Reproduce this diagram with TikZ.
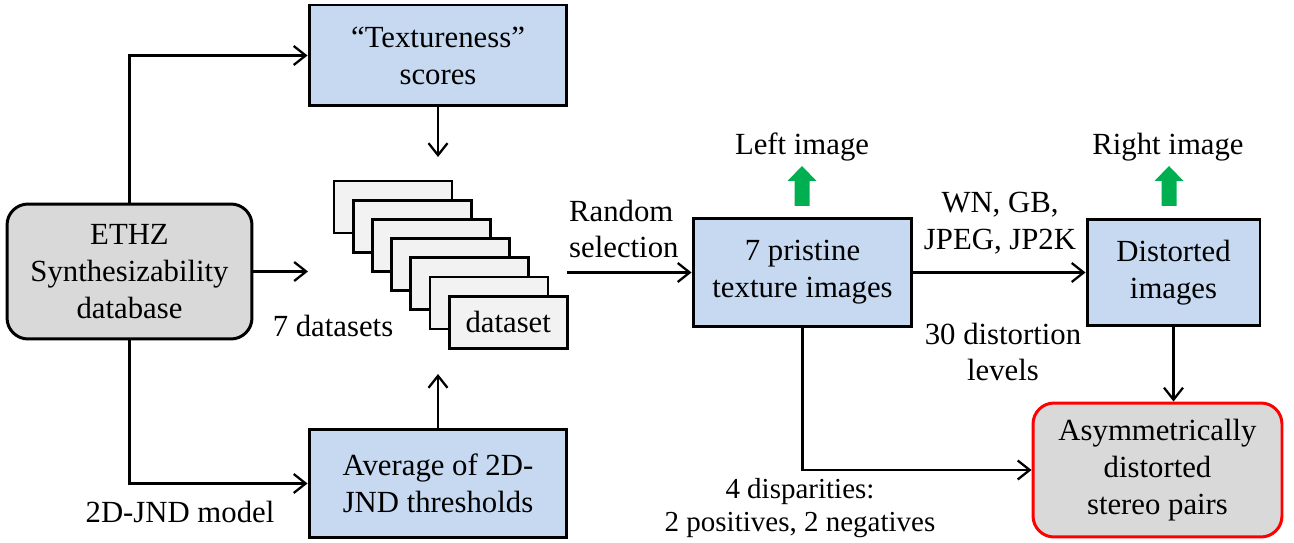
\documentclass[tikz,border=0pt]{standalone}
\usepackage{fontspec}
\IfFontExistsTF{LiberationSerif-Regular.ttf}
  {\setmainfont{LiberationSerif-Regular.ttf}[BoldFont=LiberationSerif-Bold.ttf]}
  {\setmainfont{Liberation Serif}}
\definecolor{boxblue}{RGB}{198,217,241}
\definecolor{boxgray}{RGB}{217,217,217}
\definecolor{setgray}{RGB}{242,242,242}
\definecolor{upgreen}{RGB}{0,176,80}
\usetikzlibrary{positioning,calc,arrows.meta}

\begin{document}
\begin{tikzpicture}[x=0.02cm,y=-0.02cm,
  >={Straight Barb[length=2.4mm,width=3.8mm,line width=1.3pt]},
  every node/.style={font=\rmfamily\fontsize{17.5}{21}\selectfont,align=center},
  blockbox/.style={draw,line width=1.7pt,fill=boxblue,inner sep=0pt},
  roundbox/.style={draw,line width=1.7pt,fill=boxgray,rounded corners=0.42cm,inner sep=0pt},
  dsbox/.style={draw,line width=1.6pt,fill=setgray,minimum width=2.36cm,minimum height=1.04cm,inner sep=0pt},
  link/.style={line width=1.4pt,->},
  smalltext/.style={font=\rmfamily\fontsize{16.5}{18.5}\selectfont}]
  \useasboundingbox (0,0) rectangle (1294,543);
  % blocks
  \node[roundbox,minimum width=4.9cm,minimum height=2.7cm] (ethz) at (129.5,271.5)
    {ETHZ\\Synthesizability\\database};
  \node[blockbox,minimum width=5.16cm,minimum height=2.02cm] (tex) at (438,55.5)
    {``Textureness''\\scores};
  \node[blockbox,minimum width=5.16cm,minimum height=2.18cm] (avg) at (438,483.5)
    {Average of 2D-\\JND thresholds};
  \node[blockbox,minimum width=4.38cm,minimum height=2.16cm] (prist) at (802.5,272.5)
    {7 pristine\\texture images};
  \node[blockbox,minimum width=3.46cm,minimum height=2.12cm] (dist) at (1173.5,272.5)
    {Distorted\\images};
  \node[roundbox,draw=red,minimum width=4.98cm,minimum height=2.68cm] (asym) at (1157.5,470)
    {Asymmetrically\\distorted\\stereo pairs};
  % dataset stack
  \foreach \i in {0,...,5}
    \node[dsbox] (ds\i) at (393+19.2*\i,207+19.2*\i) {};
  \node[dsbox] (ds6) at (508.2,322.2) {dataset};
  % free ends
  \coordinate (dsin) at (308,271.5);
  \coordinate (dstop) at (438,157);
  \coordinate (dsbot) at (438,374);
  \coordinate (rs) at (567,272.5);
  % connectors
  \draw[link] (ethz.north) |- (tex.west);
  \draw[link] (ethz.south) |- (avg.west);
  \draw[link] (ethz.east) -- (dsin);
  \draw[link] (tex.south) -- (dstop);
  \draw[link] (avg.north) -- (dsbot);
  \draw[link] (rs) -- (prist.west);
  \draw[link] (prist.east) -- (dist.west);
  \draw[link] (dist.south) -- (dist.south |- asym.north);
  \draw[link] (prist.south) |- (asym.west);
  % green arrows
  \foreach \c in {802,1169}
    \fill[upgreen] (\c-7.5,206) -- (\c-7.5,181) -- (\c-14.5,181) -- (\c,166)
      -- (\c+14.5,181) -- (\c+7.5,181) -- (\c+7.5,206) -- cycle;
  % labels
  \node[anchor=base] (leftlbl) at (802,155) {Left image};
  \node[anchor=base] (rightlbl) at (1168,155) {Right image};
  \node[anchor=base] (dslbl) at (333,337) {7 datasets};
  \node[anchor=base] (jndlbl) at (180,522) {2D-JND model};
  \node[anchor=west,align=left] (rslbl) at (563,229) {Random\\selection};
  \node (wnlbl) at (1000,223) {WN, GB,\\JPEG, JP2K};
  \node (lvlbl) at (1003,352) {30 distortion\\levels};
  \node[smalltext] (displbl) at (800,508) {4 disparities:\\2 positives, 2 negatives};
\end{tikzpicture}
\end{document}
